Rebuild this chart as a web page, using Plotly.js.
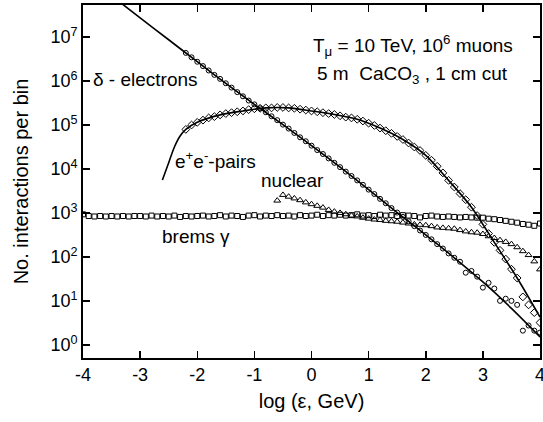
<!DOCTYPE html>
<html>
<head>
<meta charset="utf-8">
<script src="https://cdn.plot.ly/plotly-3.0.1.min.js"></script>
<style>html,body{margin:0;padding:0;background:#fff;}</style>
</head>
<body>
<div id="chart" style="width:543px;height:422px;"></div>
<script>
// Bin centres of log(eps, GeV)
const binsX = [-4.0,-3.9,-3.8,-3.7,-3.6,-3.5,-3.4,-3.3,-3.2,-3.1,
  -3.0,-2.9,-2.8,-2.7,-2.6,-2.5,-2.4,-2.3,-2.2,-2.1,
  -2.0,-1.9,-1.8,-1.7,-1.6,-1.5,-1.4,-1.3,-1.2,-1.1,
  -1.0,-0.9,-0.8,-0.7,-0.6,-0.5,-0.4,-0.3,-0.2,-0.1,
  0.0,0.1,0.2,0.3,0.4,0.5,0.6,0.7,0.8,0.9,
  1.0,1.1,1.2,1.3,1.4,1.5,1.6,1.7,1.8,1.9,
  2.0,2.1,2.2,2.3,2.4,2.5,2.6,2.7,2.8,2.9,
  3.0,3.1,3.2,3.3,3.4,3.5,3.6,3.7,3.8,3.9,4.0];

// brems gamma (starts at -4.0)
const bremsStart = -4.0;
const bremsY = [930,850,830,850,830,850,830,850,830,850,
  850,830,870,830,850,830,870,810,850,830,
  850,870,830,850,890,830,870,850,810,870,
  890,830,870,850,890,850,870,830,890,850,
  870,910,850,890,870,910,870,890,930,870,
  890,850,910,870,890,850,890,870,850,790,
  850,870,830,810,830,810,790,810,790,780,
  780,740,720,690,660,630,600,560,540,510,575];

// delta electrons (starts at -2.2)
const deltaStart = -2.2;
const deltaY = [4.37e6,3.47e6,2.75e6,2.19e6,1.74e6,1.38e6,1.12e6,8.9e5,7.1e5,5.6e5,
  4.5e5,3.6e5,2.95e5,2.4e5,1.95e5,1.58e5,1.29e5,1.02e5,8.3e4,6.6e4,
  5.25e4,4.27e4,3.39e4,2.69e4,2.19e4,1.74e4,1.38e4,1.10e4,8710,6920,
  5500,4370,3390,2690,2090,1660,1290,1020,813,646,
  501,398,316,251,195,155,120,95.5,77.6,43.7,
  47.9,35.5,20.0,25.7,19.1,10.0,11.2,10.0,8.1,2.1,
  2.75,2.1,1.9];

// e+e- pairs (starts at -2.2)
const pairsStart = -2.2;
const pairsY = [7.94e4,1.00e5,1.15e5,1.29e5,1.45e5,1.55e5,1.70e5,1.82e5,1.91e5,2.00e5,
  2.09e5,2.24e5,2.34e5,2.40e5,2.45e5,2.45e5,2.51e5,2.51e5,2.45e5,2.40e5,
  2.29e5,2.19e5,2.09e5,2.00e5,1.91e5,1.82e5,1.74e5,1.62e5,1.51e5,1.45e5,
  1.35e5,1.23e5,1.10e5,9.77e4,8.51e4,7.41e4,6.46e4,5.50e4,4.68e4,3.89e4,
  3.16e4,2.63e4,2.04e4,1.58e4,1.15e4,8130,5500,3890,2750,2000,
  1350,871,550,339,214,141,89,52.5,33.1,12.3,
  8.1,5.4,3.2];

// nuclear (starts at -0.6)
const nuclearStart = -0.6;
const nuclearY = [1910,2570,2340,2140,1950,1740,1580,1450,1320,1170,
  1070,1000,933,871,832,776,741,708,692,661,
  646,631,603,575,550,537,525,501,468,457,
  447,437,407,380,363,355,331,295,269,240,
  219,195,166,135,110,79,52];

// fitted curves
const deltaFitX = [-3.5,-3.0,-2.5,-2.0,-1.5,-1.0,-0.5,0,0.5,1.0,1.5,2.0,2.5,3.0,3.5,4.0];
const deltaFitY = [8.7e7,2.75e7,8.7e6,2.75e6,8.9e5,2.95e5,1.02e5,3.39e4,1.10e4,3390,1020,316,95.5,26.9,6.76,1.51];
const pairsFitX = [-2.61,-2.5,-2.4,-2.3,-2.2,-2.0,-1.6,-1.2,-0.8,-0.4,0,0.4,0.8,1.2,1.6,2.0,2.4,2.8,3.2,3.6,4.0];
const pairsFitY = [5620,1.38e4,3.16e4,5.62e4,7.94e4,1.15e5,1.70e5,2.09e5,2.45e5,2.45e5,2.09e5,1.74e5,1.35e5,8.51e4,4.68e4,2.04e4,5500,1350,214,33.1,4.27];

// ticks
const xTickVals = [-4,-3,-2,-1,0,1,2,3,4];
const xTickText = ['-4','-3','-2','-1','0','1','2','3','4'];
const yTickVals = [1,10,100,1000,1e4,1e5,1e6,1e7];
const yTickText = ['10<sup>0</sup>','10<sup>1</sup>','10<sup>2</sup>','10<sup>3</sup>','10<sup>4</sup>','10<sup>5</sup>','10<sup>6</sup>','10<sup>7</sup>'];

function xsFrom(start, n) {
  const i0 = binsX.findIndex(v => Math.abs(v - start) < 1e-9);
  return binsX.slice(i0, i0 + n);
}

const mk = (sym, size) => ({symbol: sym, size: size, color: 'black', line: {color: 'black', width: 1}});

const traces = [
  {x: deltaFitX, y: deltaFitY, mode: 'lines', line: {color: 'black', width: 1.6, shape: 'spline', smoothing: 0.8}, hoverinfo: 'skip'},
  {x: pairsFitX, y: pairsFitY, mode: 'lines', line: {color: 'black', width: 1.6, shape: 'spline', smoothing: 0.8}, hoverinfo: 'skip'},
  {x: xsFrom(bremsStart, bremsY.length), y: bremsY, mode: 'markers', marker: mk('square-open', 5), name: 'brems'},
  {x: xsFrom(nuclearStart, nuclearY.length), y: nuclearY, mode: 'markers', marker: mk('triangle-up-open', 6), name: 'nuclear'},
  {x: xsFrom(pairsStart, pairsY.length), y: pairsY, mode: 'markers', marker: mk('diamond-open', 6), name: 'pairs'},
  {x: xsFrom(deltaStart, deltaY.length), y: deltaY, mode: 'markers', marker: mk('circle-open', 5), name: 'delta'}
];

const F = 'Liberation Sans, Arial, Helvetica, sans-serif';
const ann = (text, x, y, xa) => ({text: text, xref: 'paper', yref: 'paper', x: x, y: y, xanchor: xa, yanchor: 'middle', showarrow: false, font: {family: F, size: 19, color: 'black'}});

const layout = {
  width: 543, height: 422,
  margin: {l: 83, r: 3, t: 5, b: 64},
  paper_bgcolor: 'white', plot_bgcolor: 'white',
  showlegend: false,
  font: {family: F, color: 'black', size: 18},
  xaxis: {
    range: [-4, 4], tickmode: 'array', tickvals: xTickVals, ticktext: xTickText,
    ticks: 'inside', ticklen: 7, tickwidth: 1.5, tickcolor: 'black', mirror: 'ticks',
    showline: true, linewidth: 1.8, linecolor: 'black', showgrid: false, zeroline: false,
    tickfont: {family: F, size: 18}, automargin: false, ticklabeloverflow: 'allow',
    title: {text: 'log (ε, GeV)', font: {family: F, size: 20}, standoff: 9}
  },
  yaxis: {
    type: 'log', range: [-0.3, 7.73], tickmode: 'array', tickvals: yTickVals, ticktext: yTickText,
    ticks: 'inside', ticklen: 7, tickwidth: 1.5, tickcolor: 'black', mirror: 'ticks',
    showline: true, linewidth: 1.8, linecolor: 'black', showgrid: false, zeroline: false,
    tickfont: {family: F, size: 18}, automargin: false, ticklabeloverflow: 'allow',
    title: {text: 'No. interactions per bin', font: {family: F, size: 20}, standoff: 16}
  },
  annotations: [
    ann('δ - electrons', 0.0175, 0.788, 'left'),
    ann('e<sup>+</sup>e<sup>-</sup>-pairs', 0.197, 0.56, 'left'),
    ann('nuclear', 0.385, 0.504, 'left'),
    ann('brems γ', 0.168, 0.343, 'left'),
    ann('T<sub>μ</sub> = 10 TeV, 10<sup>6</sup> muons', 0.722, 0.884, 'center'),
    ann('5 m  CaCO<sub>3</sub> , 1 cm cut', 0.722, 0.802, 'center')
  ]
};

Plotly.newPlot('chart', traces, layout, {displayModeBar: false, staticPlot: true});
</script>
</body>
</html>
